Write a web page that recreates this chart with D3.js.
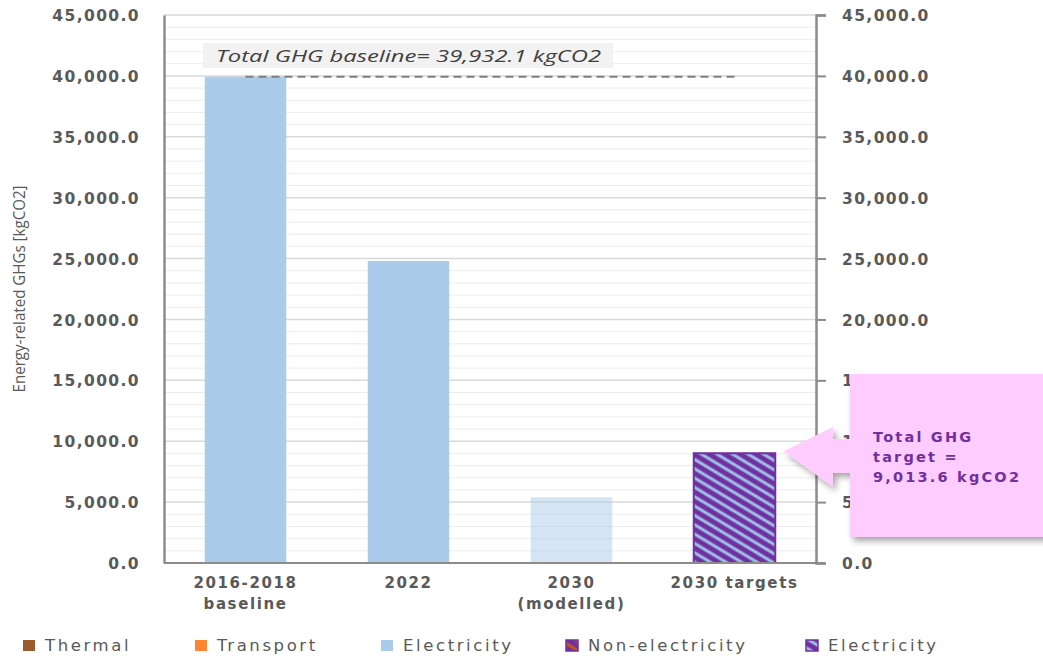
<!DOCTYPE html>
<html><head><meta charset="utf-8">
<script src="https://cdn.jsdelivr.net/npm/d3@7"></script>
<style>body{margin:0;background:#fff}svg{display:block}</style>
</head><body><svg id="c" width="1043" height="657"></svg>
<script>
const categories = [["2016-2018","baseline"],["2022"],["2030","(modelled)"],["2030 targets"]];
const thermal = [0,0,0,0];
const transport = [0,0,0,0];
const electricity = [39932.1,24800,5400,0];
const nonElecTarget = [0,0,0,0];
const elecTarget = [0,0,0,9013.6];
const baseline = 39932.1;
const target = 9013.6;
const yTicks = [0,5000,10000,15000,20000,25000,30000,35000,40000,45000];
const legendLabels = ["Thermal","Transport","Electricity","Non-electricity","Electricity"];

const svg = d3.select("#c");
const L=164,R=816,T=15,B=563;
const x = d3.scaleBand().domain(d3.range(categories.length)).range([L,R]).paddingInner(0.5).paddingOuter(0.25);
const y = d3.scaleLinear().domain([0,45000]).range([B,T]);

const defs = svg.append("defs");
function hatch(id, stripe){
  const p = defs.append("pattern").attr("id",id).attr("patternUnits","userSpaceOnUse")
    .attr("width",8).attr("height",8).attr("patternTransform","rotate(31)");
  p.append("rect").attr("width",8).attr("height",8).attr("fill","#7030a0");
  p.append("rect").attr("y",2.5).attr("width",8).attr("height",3).attr("fill",stripe);
}
hatch("hatch","#9dc3e6");
hatch("hatchO","#c55a11");
const sh = defs.append("filter").attr("id","shadow").attr("x","-20%").attr("y","-20%").attr("width","150%").attr("height","150%");
sh.append("feDropShadow").attr("dx",3).attr("dy",4).attr("stdDeviation",3).attr("flood-color","#000").attr("flood-opacity",0.35);

// gridlines
const minor = d3.range(0,45001,1000);
svg.append("g").selectAll("line").data(minor).join("line")
  .attr("x1",L).attr("x2",R).attr("y1",d=>y(d)).attr("y2",d=>y(d))
  .attr("stroke",d=>d%5000===0?"#d9d9d9":"#ececec").attr("stroke-width",d=>d%5000===0?1.5:1);

// bars (stacked)
const keys=["thermal","transport","electricity","nonElecTarget","elecTarget"];
const rows = categories.map((c,i)=>({i,thermal:thermal[i],transport:transport[i],electricity:electricity[i],nonElecTarget:nonElecTarget[i],elecTarget:elecTarget[i]}));
const stack = d3.stack().keys(keys)(rows);
const fills = {thermal:"#9e5c2e",transport:"#ff8533",electricity:"#abcbea",nonElecTarget:"url(#hatchO)",elecTarget:"url(#hatch)"};
stack.forEach(s=>{
  svg.append("g").selectAll("rect").data(s.filter(d=>d[1]-d[0]>0)).join("rect")
    .attr("x",d=>x(d.data.i)).attr("width",x.bandwidth())
    .attr("y",d=>y(d[1])).attr("height",d=>y(d[0])-y(d[1]))
    .attr("fill",fills[s.key])
    .attr("opacity",d=>(s.key==="electricity"&&d.data.i===2)?0.5:1)
    .attr("stroke",s.key==="elecTarget"?"#7030a0":"none").attr("stroke-width",2);
});

// dashed lines
svg.append("line").attr("x1",x(0)+x.bandwidth()/2).attr("x2",x(3)+x.bandwidth()/2)
  .attr("y1",y(baseline)).attr("y2",y(baseline)).attr("stroke","#7f7f7f").attr("stroke-width",2).attr("stroke-dasharray","8,5");
svg.append("line").attr("x1",x(0)+x.bandwidth()/2).attr("x2",x(3)).attr("y1",y(0)).attr("y2",y(0))
  .attr("stroke","#7f7f7f").attr("stroke-width",2).attr("stroke-dasharray","8,5");

// axes
const fmt = d3.format(",.1f");
const ax = svg.append("g").attr("transform",`translate(${L},0)`)
  .call(d3.axisLeft(y).tickValues(yTicks).tickFormat(fmt).tickSize(0).tickPadding(24));
const ar = svg.append("g").attr("transform",`translate(${R},0)`)
  .call(d3.axisRight(y).tickValues(yTicks).tickFormat(fmt).tickSize(10).tickPadding(16));
[ax,ar].forEach(a=>{
  a.select(".domain").attr("stroke","#8c8c8c").attr("stroke-width",2.5);
  a.selectAll(".tick line").attr("stroke","#8c8c8c").attr("stroke-width",2);
  a.selectAll("text").attr("font-family","DejaVu Sans, Verdana").attr("font-weight","bold")
   .attr("font-size",15.5).attr("letter-spacing","1.4px").attr("fill","#595959").attr("dy","0.36em");
});
svg.append("line").attr("x1",L).attr("x2",R+8).attr("y1",B).attr("y2",B).attr("stroke","#8c8c8c").attr("stroke-width",2);

// x labels
const xl = svg.append("g");
categories.forEach((c,i)=>{
  c.forEach((line,k)=>xl.append("text").attr("x",x(i)+x.bandwidth()/2).attr("y",588+k*21).attr("text-anchor","middle")
    .attr("font-family","DejaVu Sans, Verdana").attr("font-weight","bold").attr("font-size",15)
    .attr("letter-spacing","1.6px").attr("fill","#595959").text(line));
});

// y title
svg.append("text").attr("transform","translate(25,289) rotate(-90)").attr("text-anchor","middle")
  .attr("font-family","Liberation Sans Narrow, Open Sans, sans-serif").attr("font-size",16).attr("fill","#595959")
  .attr("textLength",207).attr("lengthAdjust","spacingAndGlyphs").text("Energy-related GHGs [kgCO2]");

// baseline annotation
svg.append("rect").attr("x",203).attr("y",43).attr("width",410).attr("height",25).attr("fill","#f2f2f2");
svg.append("text").attr("x",216).attr("y",62).attr("font-family","Open Sans, DejaVu Sans, sans-serif").attr("font-style","italic")
  .attr("font-size",17).attr("fill","#404040").attr("textLength",385).attr("lengthAdjust","spacingAndGlyphs")
  .text("Total GHG baseline= " + d3.format(",.1f")(baseline) + " kgCO2");

// callout
const tipY = y(target)-2;
const call = svg.append("g").attr("filter","url(#shadow)");
call.append("path").attr("fill","#ffccff")
  .attr("d",`M850,374 L1046,374 L1046,537 L850,537 L850,473 L833,473 L833,487 L784,${tipY} L833,427 L833,439 L850,439 Z`);
["Total GHG","target =", d3.format(",.1f")(target)+" kgCO2"].forEach((s,k)=>
  svg.append("text").attr("x",873).attr("y",442+k*20).attr("font-family","DejaVu Sans, Verdana").attr("font-weight","bold")
    .attr("font-size",14.5).attr("fill","#7030a0").attr("letter-spacing","2.2px").text(s));

// legend
const lx=[23,195,381,566,806];
const lf=["#9e5c2e","#ff8533","#abcbea","url(#hatchO)","url(#hatch)"];
const lg = svg.append("g");
legendLabels.forEach((s,i)=>{
  lg.append("rect").attr("x",lx[i]).attr("y",640).attr("width",12).attr("height",11).attr("fill",lf[i])
    .attr("stroke",i>2?"#7030a0":"none").attr("stroke-width",1.5);
  lg.append("text").attr("x",lx[i]+22).attr("y",651).attr("font-family","DejaVu Sans, Verdana").attr("font-size",16.5)
    .attr("letter-spacing","2.6px").attr("fill","#595959").text(s);
});
</script></body></html>
